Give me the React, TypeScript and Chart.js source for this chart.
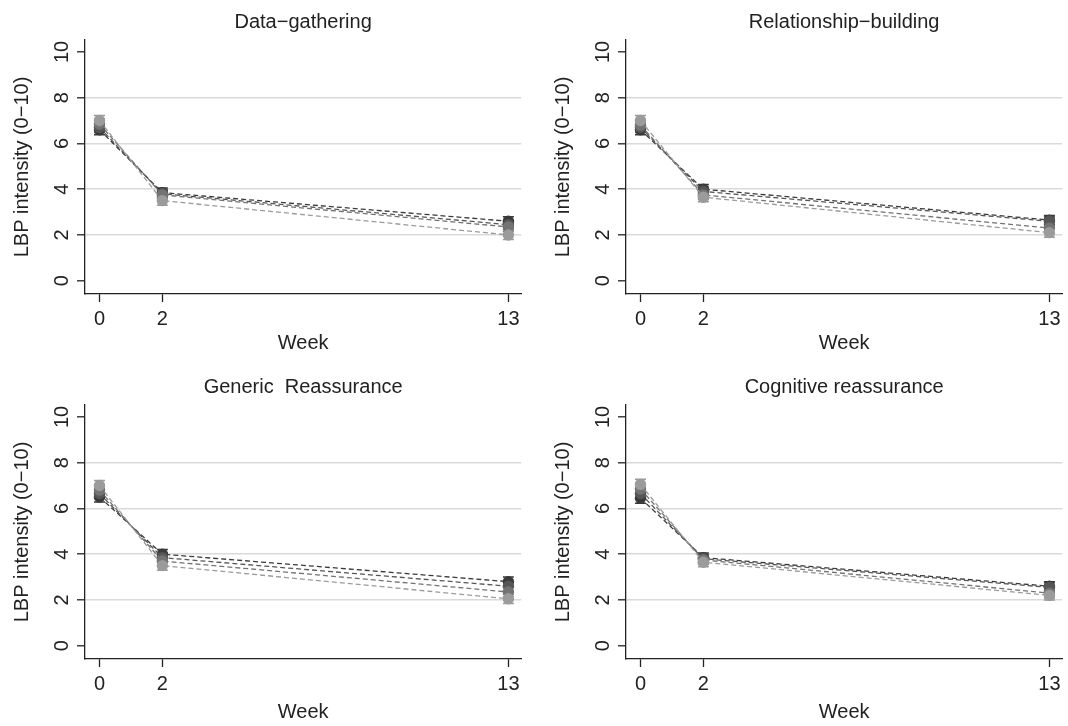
import React, { useEffect, useRef } from "react";
import { Chart, registerables } from "chart.js";
Chart.register(...registerables);

// ---- data ----
const weeks = [0, 2, 13];
const xTickValues = [0, 2, 13];
const yTickValues = [0, 2, 4, 6, 8, 10];
const panelTitles = ["Data−gathering", "Relationship−building", "Generic  Reassurance", "Cognitive reassurance"];
const seriesColors = ["#3a3a3a", "#565656", "#737373", "#9b9b9b"];

// series 1 (darkest) .. series 4 (lightest), values at weeks 0, 2, 13
const dataGathering = [
  [6.6, 3.85, 2.6],
  [6.7, 3.8, 2.45],
  [6.85, 3.75, 2.35],
  [7.0, 3.5, 2.0],
];
const relationshipBuilding = [
  [6.6, 4.0, 2.65],
  [6.7, 3.9, 2.6],
  [6.8, 3.75, 2.3],
  [7.0, 3.65, 2.1],
];
const genericReassurance = [
  [6.5, 4.0, 2.8],
  [6.65, 3.85, 2.6],
  [6.8, 3.7, 2.35],
  [7.0, 3.5, 2.05],
];
const cognitiveReassurance = [
  [6.45, 3.85, 2.6],
  [6.65, 3.8, 2.55],
  [6.85, 3.75, 2.3],
  [7.05, 3.65, 2.2],
];
const errorHalfWidth = [0.22, 0.2, 0.2];

const panelData = [dataGathering, relationshipBuilding, genericReassurance, cognitiveReassurance];

const FONT = '"Liberation Sans", Arial, Helvetica, sans-serif';
const TEXT = "#222";

const yTickLabelPlugin = {
  id: "yTickLabels",
  afterDraw(chart: any) {
    const ys = chart.scales.y;
    const ctx = chart.ctx;
    ctx.save();
    ctx.font = `20px ${FONT}`;
    ctx.fillStyle = TEXT;
    ctx.textAlign = "center";
    ctx.textBaseline = "middle";
    for (const v of yTickValues) {
      const py = ys.getPixelForValue(v);
      ctx.save();
      ctx.translate(ys.right - 23, py);
      ctx.rotate(-Math.PI / 2);
      ctx.fillText(String(v), 0, 0);
      ctx.restore();
    }
    ctx.restore();
  },
};

const errorBarPlugin = {
  id: "errorBars",
  beforeDatasetsDraw(chart: any) {
    const ys = chart.scales.y;
    const ctx = chart.ctx;
    ctx.save();
    chart.data.datasets.forEach((ds: any, i: number) => {
      const meta = chart.getDatasetMeta(i);
      ctx.strokeStyle = ds.pointBackgroundColor;
      ctx.lineWidth = 1.5;
      meta.data.forEach((pt: any, j: number) => {
        const v = ds.data[j].y;
        const e = errorHalfWidth[j];
        const y1 = ys.getPixelForValue(v + e);
        const y2 = ys.getPixelForValue(v - e);
        ctx.beginPath();
        ctx.moveTo(pt.x, y1);
        ctx.lineTo(pt.x, y2);
        ctx.moveTo(pt.x - 5.5, y1);
        ctx.lineTo(pt.x + 5.5, y1);
        ctx.moveTo(pt.x - 5.5, y2);
        ctx.lineTo(pt.x + 5.5, y2);
        ctx.stroke();
      });
    });
    ctx.restore();
  },
};

function Panel({ title, series, bottomRow }: { title: string; series: number[][]; bottomRow: boolean }) {
  const ref = useRef<HTMLCanvasElement>(null);
  useEffect(() => {
    if (!ref.current) return;
    const font = { family: FONT, size: 20, weight: "normal" as const };
    const chart = new Chart(ref.current, {
      type: "line",
      data: {
        datasets: series.map((vals, i) => ({
          label: `s${i + 1}`,
          data: weeks.map((w, j) => ({ x: w, y: vals[j] })),
          borderColor: seriesColors[i],
          borderWidth: 1.3,
          borderDash: [5, 3],
          pointRadius: 5.7,
          pointBackgroundColor: seriesColors[i],
          pointBorderColor: seriesColors[i],
          pointBorderWidth: 0,
          tension: 0,
          order: 3 - i,
        })),
      },
      options: {
        responsive: false,
        animation: false,
        events: [],
        layout: { padding: { left: 0, right: 3, top: 0, bottom: 0 } },
        plugins: {
          legend: { display: false },
          tooltip: { enabled: false },
          title: {
            display: true,
            text: title,
            fullSize: false,
            font,
            color: TEXT,
            padding: { top: 10, bottom: 6 },
          },
        },
        scales: {
          x: {
            type: "linear",
            min: -0.46,
            max: 13.41,
            afterBuildTicks: (s: any) => {
              s.ticks = xTickValues.map((v) => ({ value: v }));
            },
            afterFit: (s: any) => {
              s.height = 67;
            },
            ticks: { font, color: TEXT, padding: 5, maxRotation: 0, autoSkip: false },
            grid: { drawOnChartArea: false, drawTicks: true, tickLength: 8, tickColor: TEXT, tickWidth: 1.3 },
            border: { display: true, color: TEXT, width: 1.3 },
            title: { display: true, text: "Week", font, color: TEXT, padding: { top: 0, bottom: bottomRow ? 2 : 6 } },
          },
          y: {
            type: "linear",
            min: -0.58,
            max: 10.52,
            afterBuildTicks: (s: any) => {
              s.ticks = yTickValues.map((v) => ({ value: v }));
            },
            afterFit: (s: any) => {
              s.width = 85;
            },
            ticks: { display: false },
            grid: {
              color: (c: any) => (c.tick && c.tick.value > 0 && c.tick.value < 10 ? "#dadada" : "rgba(0,0,0,0)"),
              lineWidth: 1.6,
              drawTicks: true,
              tickLength: 8,
              tickColor: TEXT,
              tickWidth: 1.3,
            },
            border: { display: true, color: TEXT, width: 1.3 },
            title: { display: true, text: "LBP intensity (0−10)", font, color: TEXT, padding: { top: 10, bottom: 0 } },
          },
        },
      } as any,
      plugins: [errorBarPlugin, yTickLabelPlugin],
    });
    return () => chart.destroy();
  }, [title, series, bottomRow]);
  return <canvas ref={ref} width={527} height={361} style={{ width: 527, height: 361, display: "block" }} />;
}

const positions = [
  { left: 0, top: 0 },
  { left: 541, top: 0 },
  { left: 0, top: 365 },
  { left: 541, top: 365 },
];

export default function App() {
  return (
    <div style={{ position: "absolute", left: 0, top: 0, width: 1068, height: 726, background: "#fff" }}>
      {panelTitles.map((t, i) => (
        <div key={t} style={{ position: "absolute", left: positions[i].left, top: positions[i].top, width: 527, height: 361 }}>
          <Panel title={t} series={panelData[i]} bottomRow={i >= 2} />
        </div>
      ))}
    </div>
  );
}
